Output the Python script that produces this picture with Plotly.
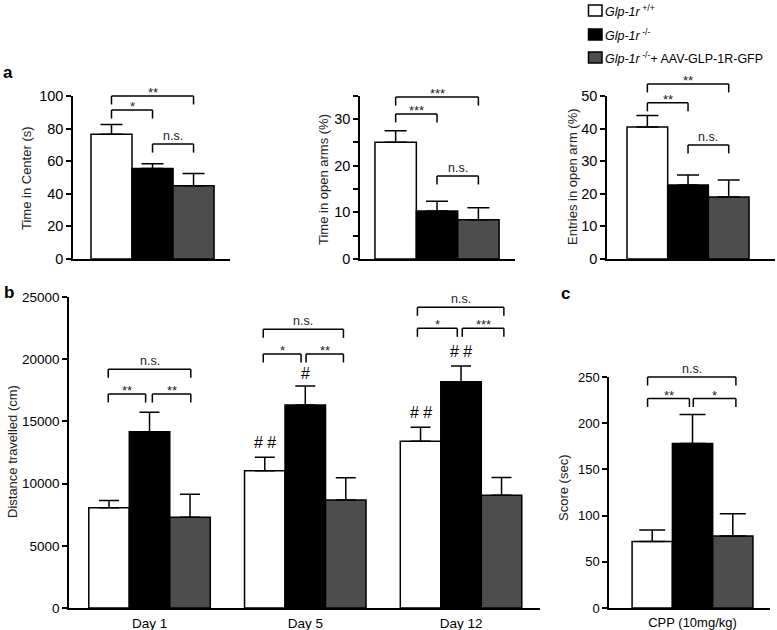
import plotly.graph_objects as go

W, H = 777, 630
FONT = "Liberation Sans, Arial, sans-serif"

# ---------------- data ----------------
groups = ["Glp-1r +/+", "Glp-1r -/-", "Glp-1r -/- + AAV-GLP-1R-GFP"]
legend_labels = ["<i>Glp-1r</i><sup> +/+</sup>",
                 "<i>Glp-1r</i><sup> -/-</sup>",
                 "<i>Glp-1r</i><sup> -/-</sup>+ AAV-GLP-1R-GFP"]
colors = ["#ffffff", "#000000", "#4d4d4d"]

center_time = [76.5, 55.5, 45.0]
center_time_err = [6.0, 3.0, 7.5]
open_time = [25.0, 10.3, 8.4]
open_time_err = [2.5, 2.1, 2.6]
open_entries = [40.5, 22.7, 19.0]
open_entries_err = [3.5, 3.1, 5.2]

days = ["Day 1", "Day 5", "Day 12"]
dist_wt = [8050, 11040, 13400]
dist_wt_err = [600, 1070, 1120]
dist_ko = [14170, 16320, 18190]
dist_ko_err = [1560, 1530, 1260]
dist_res = [7290, 8680, 9060]
dist_res_err = [1850, 1800, 1440]

cpp_label = ["CPP (10mg/kg)"]
cpp = [72, 178, 78]
cpp_err = [12.5, 31.5, 24.0]

# significance brackets: (panel, x_start, x_end, y_value, label)
brackets = [
    ("a1", -0.26, 0.0, 91.4, "*"),
    ("a1", -0.26, 0.26, 100.0, "**"),
    ("a1", 0.0, 0.26, 70.5, "n.s."),
    ("a2", -0.26, 0.26, 34.7, "***"),
    ("a2", -0.26, 0.0, 31.1, "***"),
    ("a2", 0.0, 0.26, 17.8, "n.s."),
    ("a3", -0.26, 0.26, 53.7, "**"),
    ("a3", -0.26, 0.0, 47.9, "**"),
    ("a3", 0.0, 0.26, 35.0, "n.s."),
    ("b", -0.265, 0.265, 19190, "n.s."),
    ("b", -0.265, -0.025, 17200, "**"),
    ("b", 0.018, 0.265, 17200, "**"),
    ("b", 0.73, 1.245, 22400, "n.s."),
    ("b", 0.73, 0.973, 20420, "*"),
    ("b", 1.005, 1.245, 20420, "**"),
    ("b", 1.72, 2.275, 24170, "n.s."),
    ("b", 1.72, 1.976, 22480, "*"),
    ("b", 2.008, 2.275, 22480, "***"),
    ("c", -0.29, 0.28, 250, "n.s."),
    ("c", -0.29, -0.02, 226.7, "**"),
    ("c", 0.005, 0.28, 226.7, "*"),
]
# '#' marks in panel b: (day index, group index, label, y value)
hash_marks = [
    (1, 0, "# #", 13340),
    (1, 1, "#", 18890),
    (2, 0, "# #", 15680),
    (2, 1, "# #", 20580),
]

# ---------------- layout geometry ----------------
panels = {
    "a1": dict(xa="x", ya="y", px=(73, 230), py=(96, 259), xr=[-0.504, 0.491], yr=[0, 100],
               tickvals=[0, 20, 40, 60, 80, 100], minor=None, tfs=14.5, cap=11,
               title="Time in Center (s)", tx=26, ty=178),
    "a2": dict(xa="x2", ya="y2", px=(360, 515), py=(95.7, 259), xr=[-0.484, 0.49], yr=[0, 35],
               tickvals=[0, 10, 20, 30], minor=[5, 15, 25, 35],
               tfs=14.5, cap=11, title="Time in open arms (%)", tx=323, ty=180),
    "a3": dict(xa="x3", ya="y3", px=(607, 775), py=(96, 259), xr=[-0.518, 0.556], yr=[0, 50],
               tickvals=[0, 10, 20, 30, 40, 50], minor=None, tfs=14.5, cap=11,
               title="Entries in open arm (%)", tx=572, ty=177),
    "b": dict(xa="x4", ya="y4", px=(69, 540), py=(297, 608), xr=[-0.517, 2.507], yr=[0, 25000],
              tickvals=[0, 5000, 10000, 15000, 20000, 25000], minor=None, tfs=13.5, cap=10,
              title="Distance travelled (cm)", tx=12, ty=452),
    "c": dict(xa="x5", ya="y5", px=(609, 770), py=(377, 608), xr=[-0.539, 0.5], yr=[0, 250],
              tickvals=[0, 50, 100, 150, 200, 250], minor=None, tfs=13, cap=13,
              title="Score (sec)", tx=563, ty=488),
}

BAR_W = 0.26
offsets = [-1.5 * BAR_W, -0.5 * BAR_W, 0.5 * BAR_W]

fig = go.Figure()

def add_bars(panel, xs, means, errs, gi):
    p = panels[panel]
    fig.add_trace(go.Bar(
        x=xs, y=means, width=BAR_W, offset=offsets[gi],
        marker=dict(color=colors[gi], line=dict(color="black", width=1.5)),
        error_y=dict(type="data", array=errs, arrayminus=[0] * len(errs), symmetric=False,
                     color="black", thickness=1.5, width=p["cap"]),
        xaxis=p["xa"], yaxis=p["ya"], name=groups[gi], showlegend=False,
    ))

single = [0]
a_series = [
    ("a1", center_time, center_time_err),
    ("a2", open_time, open_time_err),
    ("a3", open_entries, open_entries_err),
    ("c", cpp, cpp_err),
]
for panel, means, errs in a_series:
    for gi in range(3):
        add_bars(panel, single, [means[gi]], [errs[gi]], gi)

day_x = list(range(len(days)))
for gi, (m, e) in enumerate([(dist_wt, dist_wt_err), (dist_ko, dist_ko_err), (dist_res, dist_res_err)]):
    add_bars("b", day_x, m, e, gi)

layout = dict(
    template="none",
    width=W, height=H, margin=dict(l=0, r=0, t=0, b=0, pad=0, autoexpand=False),
    paper_bgcolor="white", plot_bgcolor="white",
    barmode="overlay", showlegend=False,
    font=dict(family=FONT, color="black"),
)

annotations = []
shapes = []

for name, p in panels.items():
    xkey = "xaxis" + p["xa"][1:]
    ykey = "yaxis" + p["ya"][1:]
    xd = [p["px"][0] / W, p["px"][1] / W]
    yd = [1 - p["py"][1] / H, 1 - p["py"][0] / H]
    xaxis = dict(domain=xd, range=p["xr"], anchor=p["ya"], showline=True, linecolor="black",
                 linewidth=1.5, showgrid=False, zeroline=False, fixedrange=True, automargin=False)
    if name == "b":
        xaxis.update(tickvals=day_x, ticktext=days, ticks="outside", ticklen=2,
                     tickcolor="rgba(0,0,0,0)", tickfont=dict(size=13.5, family=FONT))
    elif name == "c":
        xaxis.update(tickvals=[0], ticktext=cpp_label, ticks="outside", ticklen=2,
                     tickcolor="rgba(0,0,0,0)", tickfont=dict(size=13, family=FONT))
    else:
        xaxis.update(showticklabels=False, ticks="")
    yaxis = dict(domain=yd, range=p["yr"], anchor=p["xa"], showline=True, linecolor="black",
                 linewidth=1.5, showgrid=False, zeroline=False, ticks="outside", ticklen=5,
                 tickwidth=1.5, tickcolor="black", tickvals=p["tickvals"], tickformat="d",
                 tickfont=dict(size=p["tfs"], family=FONT), fixedrange=True, automargin=False)
    if p["minor"] is not None:
        yaxis["minor"] = dict(tickvals=p["minor"], ticks="outside", ticklen=5, tickwidth=1.5,
                              tickcolor="black", showgrid=False)
    layout[xkey] = xaxis
    layout[ykey] = yaxis
    annotations.append(dict(text=p["title"], x=p["tx"] / W, y=1 - p["ty"] / H, xref="paper",
                            yref="paper", textangle=-90, showarrow=False, xanchor="center",
                            yanchor="middle", font=dict(size=13, family=FONT, color="#222")))

def yfrac(p, v):
    return (v - p["yr"][0]) / (p["yr"][1] - p["yr"][0])

def pxfrac(p, d):
    return d / (p["py"][1] - p["py"][0])

for panel, x0, x1, yv, label in brackets:
    p = panels[panel]
    yt = yfrac(p, yv)
    drop = pxfrac(p, 8.5)
    yr = p["ya"] + " domain"
    ln = dict(color="black", width=1.5)
    shapes.append(dict(type="line", xref=p["xa"], yref=yr, x0=x0, x1=x1, y0=yt, y1=yt, line=ln))
    shapes.append(dict(type="line", xref=p["xa"], yref=yr, x0=x0, x1=x0, y0=yt, y1=yt - drop, line=ln))
    shapes.append(dict(type="line", xref=p["xa"], yref=yr, x0=x1, x1=x1, y0=yt, y1=yt - drop, line=ln))
    is_ns = label == "n.s."
    annotations.append(dict(text=label, x=(x0 + x1) / 2, xref=p["xa"], y=yt, yref=yr,
                            showarrow=False, xanchor="center", yanchor="bottom",
                            yshift=-1 if is_ns else -6,
                            font=dict(size=12.5 if is_ns else 13, family=FONT, color="#222")))

pb = panels["b"]
for di, gi, label, yv in hash_marks:
    annotations.append(dict(text=label, x=di + offsets[gi] + BAR_W / 2, xref=pb["xa"],
                            y=yfrac(pb, yv), yref=pb["ya"] + " domain", showarrow=False,
                            xanchor="center", yanchor="middle",
                            font=dict(size=16, family=FONT, color="black")))

# panel letters
for letter, lx, ly in [("a", 8, 72), ("b", 9, 292), ("c", 565, 293)]:
    annotations.append(dict(text="<b>%s</b>" % letter, x=lx / W, y=1 - ly / H, xref="paper",
                            yref="paper", showarrow=False, xanchor="center", yanchor="middle",
                            font=dict(size=17, family=FONT, color="black")))

# legend (drawn manually)
leg_rows = [10.5, 34.5, 57.5]
for gi, cy in enumerate(leg_rows):
    shapes.append(dict(type="rect", xref="paper", yref="paper", x0=588.5 / W, x1=602 / W,
                       y0=1 - (cy + 5.5) / H, y1=1 - (cy - 5.5) / H,
                       fillcolor=colors[gi], line=dict(color="black", width=1.5)))
    annotations.append(dict(text=legend_labels[gi], x=603 / W, y=1 - cy / H, xref="paper",
                            yref="paper", showarrow=False, xanchor="left", yanchor="middle",
                            font=dict(size=12.5, family=FONT, color="black")))

layout["annotations"] = annotations
layout["shapes"] = shapes
fig.update_layout(**layout)

fig.write_html("out.html", config={"displayModeBar": False},
               post_script="document.body.style.margin='0px';document.body.style.padding='0px';")
